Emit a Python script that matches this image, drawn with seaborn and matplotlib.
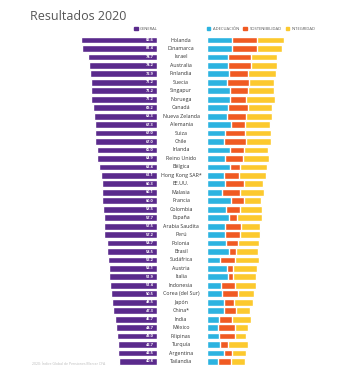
import pandas as pd
import matplotlib.pyplot as plt
import seaborn as sns
from matplotlib.patches import Patch
from matplotlib.transforms import blended_transform_factory

countries = ["Holanda", "Dinamarca", "Israel", "Australia", "Finlandia", "Suecia",
             "Singapur", "Noruega", "Canadá", "Nueva Zelanda", "Alemania", "Suiza",
             "Chile", "Irlanda", "Reino Unido", "Bélgica", "Hong Kong SAR*", "EE.UU.",
             "Malasia", "Francia", "Colombia", "España", "Arabia Saudita", "Perú",
             "Polonia", "Brasil", "Sudáfrica", "Austria", "Italia", "Indonesia",
             "Corea (del Sur)", "Japón", "China*", "India", "México", "Filipinas",
             "Turquía", "Argentina", "Tailandia"]
general = [82.6, 81.4, 74.7, 74.2, 72.9, 71.2, 71.2, 71.2, 69.2, 68.3, 67.3, 67.0,
           67.0, 65.0, 64.9, 63.4, 61.1, 60.3, 60.1, 60.0, 58.5, 57.7, 57.5, 57.2,
           54.7, 54.5, 53.2, 52.1, 51.9, 51.4, 50.5, 48.5, 47.3, 45.7, 44.7, 43.0,
           42.7, 42.5, 40.8]
adecuacion = [27.1, 27.1, 23.2, 22.5, 23.9, 22.1, 25.0, 24.6, 22.8, 21.4, 26.4, 20.0,
              18.9, 25.0, 20.0, 25.0, 18.5, 20.0, 16.8, 26.4, 21.0, 23.9, 20.0, 19.6,
              20.3, 24.2, 14.6, 21.4, 22.5, 15.3, 16.4, 18.9, 18.9, 13.5, 12.5, 13.2,
              14.6, 18.9, 12.5]
sostenibilidad = [26.4, 26.7, 24.2, 24.6, 20.0, 23.2, 19.3, 17.8, 21.4, 20.7, 14.6, 21.0,
                  23.2, 15.0, 18.9, 10.3, 16.0, 20.3, 19.3, 13.2, 14.6, 8.9, 17.1, 16.4,
                  13.2, 7.1, 15.3, 7.1, 6.1, 15.0, 17.5, 10.3, 12.1, 13.9, 18.2, 17.5,
                  8.2, 8.2, 13.5]
integridad = [29.2, 27.1, 27.8, 27.8, 30.7, 26.7, 27.8, 30.3, 25.7, 27.5, 26.7, 27.8,
              26.4, 25.7, 27.8, 29.6, 28.9, 20.0, 25.7, 18.9, 23.5, 26.0, 20.3, 21.4,
              22.1, 23.5, 26.0, 25.0, 24.2, 22.5, 16.4, 20.0, 15.7, 20.0, 13.9, 11.4,
              21.7, 15.0, 15.3]

purple = "#5a2a8c"
blue = "#2cb3e0"
orange = "#f05a22"
yellow = "#fcc92e"

df = pd.DataFrame({"pais": countries, "general": general, "adecuacion": adecuacion,
                   "sostenibilidad": sostenibilidad, "integridad": integridad})
df["ad_sos"] = df["adecuacion"] + df["sostenibilidad"]
df["total"] = df["ad_sos"] + df["integridad"]

sns.set_style("white")
plt.rcParams['font.family'] = ['Open Sans', 'DejaVu Sans']

fig = plt.figure(figsize=(3.5, 3.78), dpi=100)
bottom = (378 - 365.7) / 378
height = 329.9 / 378
axl = fig.add_axes([30 / 350, bottom, 127 / 350, height])
axr = fig.add_axes([206.7 / 350, bottom, 120 / 350, height])

# left panel: general index, bars grow to the left
sns.barplot(data=df, y="pais", x="general", color=purple, width=0.8,
            saturation=1, orient="h", ax=axl)
axl.set_xlim(127 / 0.92, 0)

# right panel: stacked sub-indices
sns.barplot(data=df, y="pais", x="total", color=yellow, width=0.8,
            saturation=1, orient="h", ax=axr)
sns.barplot(data=df, y="pais", x="ad_sos", color=orange, width=0.8,
            saturation=1, orient="h", ax=axr)
sns.barplot(data=df, y="pais", x="adecuacion", color=blue, width=0.8,
            saturation=1, orient="h", ax=axr)
axr.set_xlim(0, 120 / 0.935)

for ax in (axl, axr):
    ax.set_ylim(len(countries) - 0.5, -0.5)
    ax.set(xlabel="", ylabel="", xticks=[], yticks=[])
    sns.despine(ax=ax, left=True, bottom=True)

for i, v in enumerate(general):
    axl.text(3.8, i, f"{v:.1f}", ha="right", va="center", color="white",
             fontsize=2.8, fontweight="bold")

trans = blended_transform_factory(fig.transFigure, axl.transData)
for i, name in enumerate(countries):
    axl.text(181 / 350, i, name, transform=trans, ha="center", va="center",
             fontsize=3.8, color="#333333")

fig.text(30 / 350, 1 - 17 / 378, "Resultados 2020", fontsize=9, color="#555555",
         va="center")

fig.legend(handles=[Patch(color=purple, label="GENERAL")], loc="center right",
           bbox_to_anchor=(158 / 350, 1 - 28.7 / 378), frameon=False, fontsize=3,
           handlelength=0.9, handleheight=0.9, handletextpad=0.5, borderpad=0,
           borderaxespad=0, labelcolor="#555555")
fig.legend(handles=[Patch(color=blue, label="ADECUACIÓN"),
                    Patch(color=orange, label="SOSTENIBILIDAD"),
                    Patch(color=yellow, label="INTEGRIDAD")],
           loc="center left", bbox_to_anchor=(206.5 / 350, 1 - 28.7 / 378), ncol=3,
           frameon=False, fontsize=3, handlelength=0.9, handleheight=0.9,
           handletextpad=0.6, columnspacing=1.0, borderpad=0, borderaxespad=0,
           labelcolor="#555555")

fig.text(32 / 350, 1 - 364 / 378, "2020: Índice Global de Pensiones Mercer CFA",
         fontsize=2.5, color="#bbbbbb", va="center")

fig.savefig("out.png", dpi=100)
